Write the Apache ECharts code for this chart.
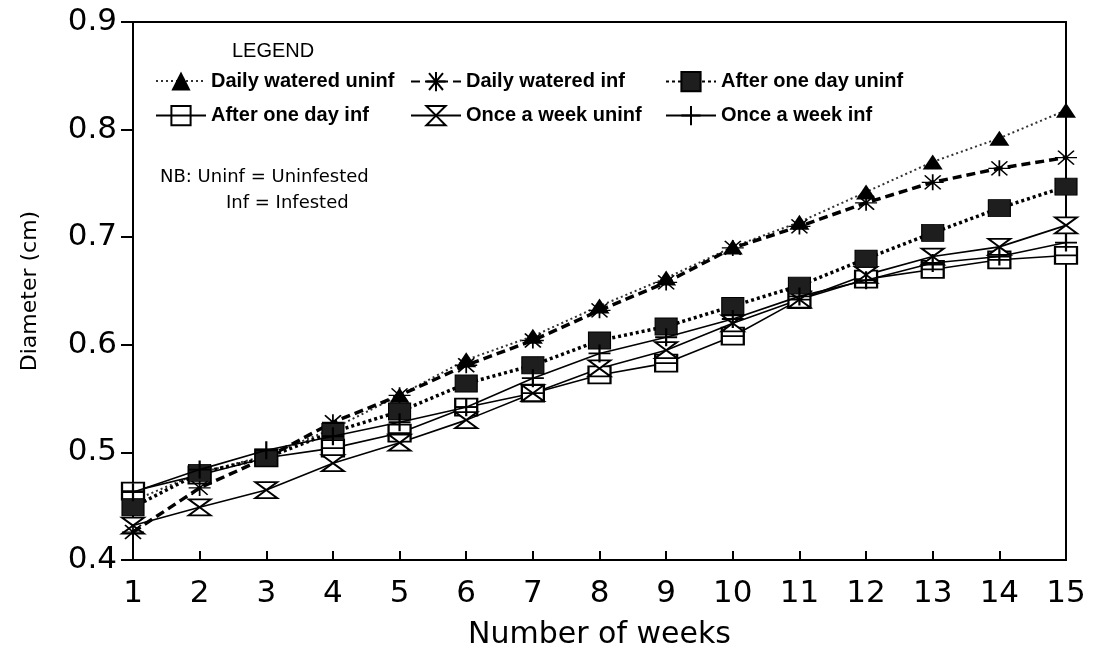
<!DOCTYPE html>
<html>
<head>
<meta charset="utf-8">
<script src="https://cdn.jsdelivr.net/npm/echarts@6/dist/echarts.min.js"></script>
<style>
  html, body { margin: 0; padding: 0; background: #fff; }
  #chart { width: 1101px; height: 651px; }
</style>
</head>
<body>
<div id="chart"></div>
<script>
// ---- data ----
var weeks = [1, 2, 3, 4, 5, 6, 7, 8, 9, 10, 11, 12, 13, 14, 15];
var yTicks = [0.4, 0.5, 0.6, 0.7, 0.8, 0.9];
var dailyWateredUninf = [0.455, 0.481, 0.497, 0.522, 0.553, 0.586, 0.608, 0.636, 0.662, 0.691, 0.714, 0.742, 0.770, 0.792, 0.818];
var dailyWateredInf   = [0.426, 0.467, 0.495, 0.528, 0.553, 0.581, 0.604, 0.632, 0.658, 0.690, 0.710, 0.732, 0.751, 0.764, 0.774];
var afterOneDayUninf  = [0.449, 0.481, 0.495, 0.519, 0.538, 0.564, 0.581, 0.604, 0.617, 0.636, 0.655, 0.680, 0.704, 0.727, 0.747];
var afterOneDayInf    = [0.464, 0.479, 0.495, 0.504, 0.518, 0.542, 0.555, 0.572, 0.583, 0.608, 0.642, 0.661, 0.670, 0.679, 0.683];
var onceAWeekUninf    = [0.432, 0.449, 0.465, 0.490, 0.509, 0.530, 0.555, 0.578, 0.595, 0.620, 0.642, 0.665, 0.682, 0.691, 0.711];
var onceAWeekInf      = [0.463, 0.484, 0.502, 0.515, 0.528, 0.542, 0.569, 0.592, 0.607, 0.624, 0.645, 0.660, 0.676, 0.682, 0.695];
var names = ['Daily watered uninf', 'Daily watered inf', 'After one day uninf',
             'After one day inf', 'Once a week uninf', 'Once a week inf'];

function pairs(arr) { return weeks.map(function (w, i) { return [w, arr[i]]; }); }

var SYM_STAR = 'path://M0,8 H22 M11,0 V16 M3,1 L19,15 M19,1 L3,15';
var SYM_OPENSQ = 'path://M0,0 H20 V16 H0 Z M0,8 H20';
var SYM_HOUR = 'path://M0,0 H20 L10,10 L20,20 H0 L10,10 Z';
var SYM_PLUS = 'path://M0,10 H20 M10,0 V20';

var chart = echarts.init(document.getElementById('chart'));

var legendBase = {
  orient: 'horizontal', padding: 0, itemWidth: 50, itemHeight: 24, itemGap: 10,
  selectedMode: false,
  textStyle: { fontFamily: 'Liberation Sans, Arial, sans-serif', fontWeight: 'bold', fontSize: 20, color: '#000' }
};
function lg(name, left, top) {
  return Object.assign({}, legendBase, { data: [name], left: left, top: top });
}

var option = {
  backgroundColor: '#fff',
  animation: false,
  grid: { left: 133, right: 35, top: 22, bottom: 91, show: true, borderColor: '#000', borderWidth: 2,
          backgroundColor: 'transparent', containLabel: false, outerBoundsMode: 'none' },
  legend: [
    lg(names[0], 155, 71), lg(names[1], 410, 71), lg(names[2], 665, 71),
    lg(names[3], 155, 105), lg(names[4], 410, 105), lg(names[5], 665, 105)
  ],
  graphic: [
    { type: 'text', left: 232, top: 41, style: { text: 'LEGEND', font: '20px "Liberation Sans", Arial, sans-serif', fill: '#000' } },
    { type: 'text', left: 160, top: 168, style: { text: 'NB: Uninf = Uninfested', font: '18px "DejaVu Sans", sans-serif', fill: '#000' } },
    { type: 'text', left: 226, top: 194, style: { text: 'Inf = Infested', font: '18px "DejaVu Sans", sans-serif', fill: '#000' } }
  ],
  xAxis: {
    type: 'value', min: 1, max: 15, interval: 1,
    name: 'Number of weeks', nameLocation: 'middle', nameGap: 60,
    nameTextStyle: { fontFamily: 'DejaVu Sans, sans-serif', fontSize: 30, color: '#000' },
    axisLine: { onZero: false, lineStyle: { color: '#000', width: 2 } },
    axisTick: { inside: true, length: 9, lineStyle: { color: '#000', width: 2 } },
    axisLabel: { margin: 18, fontFamily: 'DejaVu Sans, sans-serif', fontSize: 31, color: '#000' },
    splitLine: { show: false }
  },
  yAxis: {
    type: 'value', min: 0.4, max: 0.9, interval: 0.1,
    name: 'Diameter (cm)', nameLocation: 'middle', nameGap: 92,
    nameTextStyle: { fontFamily: 'DejaVu Sans, sans-serif', fontSize: 22, color: '#000' },
    axisLine: { onZero: false, lineStyle: { color: '#000', width: 2 } },
    axisTick: { inside: false, length: 12, lineStyle: { color: '#000', width: 2 } },
    axisLabel: { margin: 16, fontFamily: 'DejaVu Sans, sans-serif', fontSize: 31, color: '#000',
                 formatter: function (v) { return v.toFixed(1); } },
    splitLine: { show: false }
  },
  series: [
    { name: names[0], type: 'line', data: pairs(dailyWateredUninf), clip: false,
      symbol: 'triangle', symbolSize: [20, 15], z: 1,
      itemStyle: { color: '#000' },
      lineStyle: { color: '#333', width: 2, type: [2, 3] } },
    { name: names[3], type: 'line', data: pairs(afterOneDayInf), clip: false,
      symbol: SYM_OPENSQ, symbolSize: [22, 17], z: 2,
      itemStyle: { color: '#fff', borderColor: '#000', borderWidth: 2 },
      lineStyle: { color: '#000', width: 1.6, type: 'solid' } },
    { name: names[4], type: 'line', data: pairs(onceAWeekUninf), clip: false,
      symbol: SYM_HOUR, symbolSize: [22, 16], z: 2,
      itemStyle: { color: '#fff', borderColor: '#000', borderWidth: 2 },
      lineStyle: { color: '#000', width: 1.6, type: 'solid' } },
    { name: names[1], type: 'line', data: pairs(dailyWateredInf), clip: false,
      symbol: SYM_STAR, symbolSize: [22, 16], z: 3,
      itemStyle: { color: '#000', borderColor: '#000', borderWidth: 1.5 },
      lineStyle: { color: '#000', width: 3.5, type: [9, 5] } },
    { name: names[2], type: 'line', data: pairs(afterOneDayUninf), clip: false,
      symbol: 'rect', symbolSize: [22, 17], z: 4,
      itemStyle: { color: '#1e1e1e', borderColor: '#000', borderWidth: 1 },
      lineStyle: { color: '#000', width: 3.5, type: [3, 3] } },
    { name: names[5], type: 'line', data: pairs(onceAWeekInf), clip: false,
      symbol: SYM_PLUS, symbolSize: [22, 18], z: 5,
      itemStyle: { color: '#000', borderColor: '#000', borderWidth: 2 },
      lineStyle: { color: '#000', width: 1.6, type: 'solid' } }
  ]
};
chart.setOption(option);
</script>
</body>
</html>
